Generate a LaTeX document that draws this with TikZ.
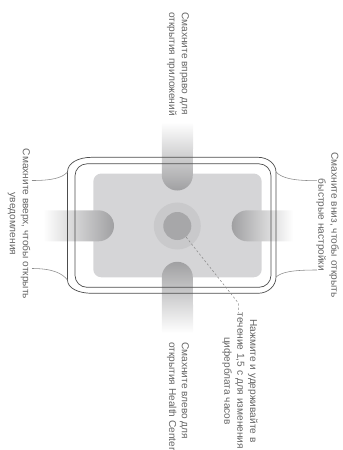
\documentclass[tikz,border=0pt]{standalone}
\usepackage{fontspec}
\setmainfont{Liberation Sans}
\usepackage{tikz}
\usetikzlibrary{calc,positioning}
\usepackage{xcolor}

\definecolor{casegray}{HTML}{4D4D4D}
\definecolor{strapgray}{HTML}{8C8C8C}
\definecolor{screengray}{HTML}{D5D5D7}
\definecolor{ringgray}{HTML}{C9C9CB}
\definecolor{dotgray}{HTML}{A7A7A9}
\definecolor{bargray}{HTML}{A0A0A2}
\definecolor{txtgray}{HTML}{666666}

\begin{document}
\begin{tikzpicture}[x=0.025cm, y=-0.025cm,
    hint/.style={font=\fontsize{7.2}{9.2}\selectfont, text=txtgray, inner sep=0pt, rotate=-90},
    caseline/.style={draw=casegray, line width=0.5pt},
    strapline/.style={draw=strapgray, line width=0.4pt},
    leader/.style={draw=strapgray, line width=0.4pt, dash pattern=on 1.5pt off 1.5pt}]
    \useasboundingbox (0,0) rectangle (343,450);

    % Screen
    \fill[screengray, rounded corners=2mm] (93.3,173.5) rectangle (261.7,277.3);

    % Swipe bars
    \shade[top color=white, bottom color=bargray] (161.8,122) -- (161.8,175)
        arc[start angle=180, end angle=360, radius=3.875mm] -- (193.2,122) -- cycle;
    \shade[top color=bargray, bottom color=white] (161.8,333) -- (161.8,277.3)
        arc[start angle=180, end angle=0, radius=3.875mm] -- (193.2,333) -- cycle;
    \shade[left color=white, right color=bargray] (43,210.3) -- (98.5,210.3)
        arc[start angle=90, end angle=-90, radius=3.875mm] -- (43,241.3) -- cycle;
    \shade[left color=bargray, right color=white] (293,210.3) -- (247.2,210.3)
        arc[start angle=90, end angle=270, radius=3.875mm] -- (293,241.3) -- cycle;

    % Press point
    \node[circle, fill=ringgray, minimum size=11.75mm, inner sep=0pt] (ring) at (177.3,226) {};
    \node[circle, fill=dotgray, minimum size=7mm, inner sep=0pt] (dot) at (ring) {};

    % Watch case
    \draw[caseline] (67.5,172) .. controls (67.5,163) and (78,157.3) .. (92,157.3) -- (258,157.3)
        .. controls (268,157.3) and (276,164) .. (276,172) -- (276,277)
        .. controls (276,286) and (268,293.3) .. (258,293.3) -- (92,293.3)
        .. controls (78,293.3) and (67.5,288) .. (67.5,280) -- cycle;
    \draw[caseline, rounded corners=3mm] (75,163.8) rectangle (271,287.3);

    % Straps
    \draw[strapline] (32,180.5) .. controls (52,180.5) and (62,178) .. (67.5,172);
    \draw[strapline] (32,268.5) .. controls (52,268.5) and (62,273) .. (67.5,280);
    \draw[strapline] (276,172) .. controls (282,178) and (292,180.7) .. (317,180.7);
    \draw[strapline] (276,277) .. controls (282,272) and (292,270) .. (317,270);

    % Hints
    \foreach \nm/\x/\y/\anc/\al/\txt in {%
        appsHint/178/12/west/left/{Смахните вправо для\\открытия приложений},%
        notifHint/19/224/center/center/{Смахните вверх, чтобы открыть\\уведомления},%
        quickHint/327.5/225/center/center/{Смахните вниз, чтобы открыть\\быстрые настройки},%
        healthHint/178/342/west/left/{Смахните влево для\\открытия Health Center},%
        faceHint/240/381/center/center/{Нажмите и удерживайте в\\течение 1,5 с для изменения\\циферблата часов}%
    } {
        \node[hint, anchor=\anc, align=\al] (\nm) at (\x,\y) {\txt};
    }

    % Leader to press hint
    \coordinate (bend) at (238.3,303);
    \coordinate (tip) at (238.3,313);
    \draw[leader] (dot) -- (bend) -- (tip);
\end{tikzpicture}
\end{document}
